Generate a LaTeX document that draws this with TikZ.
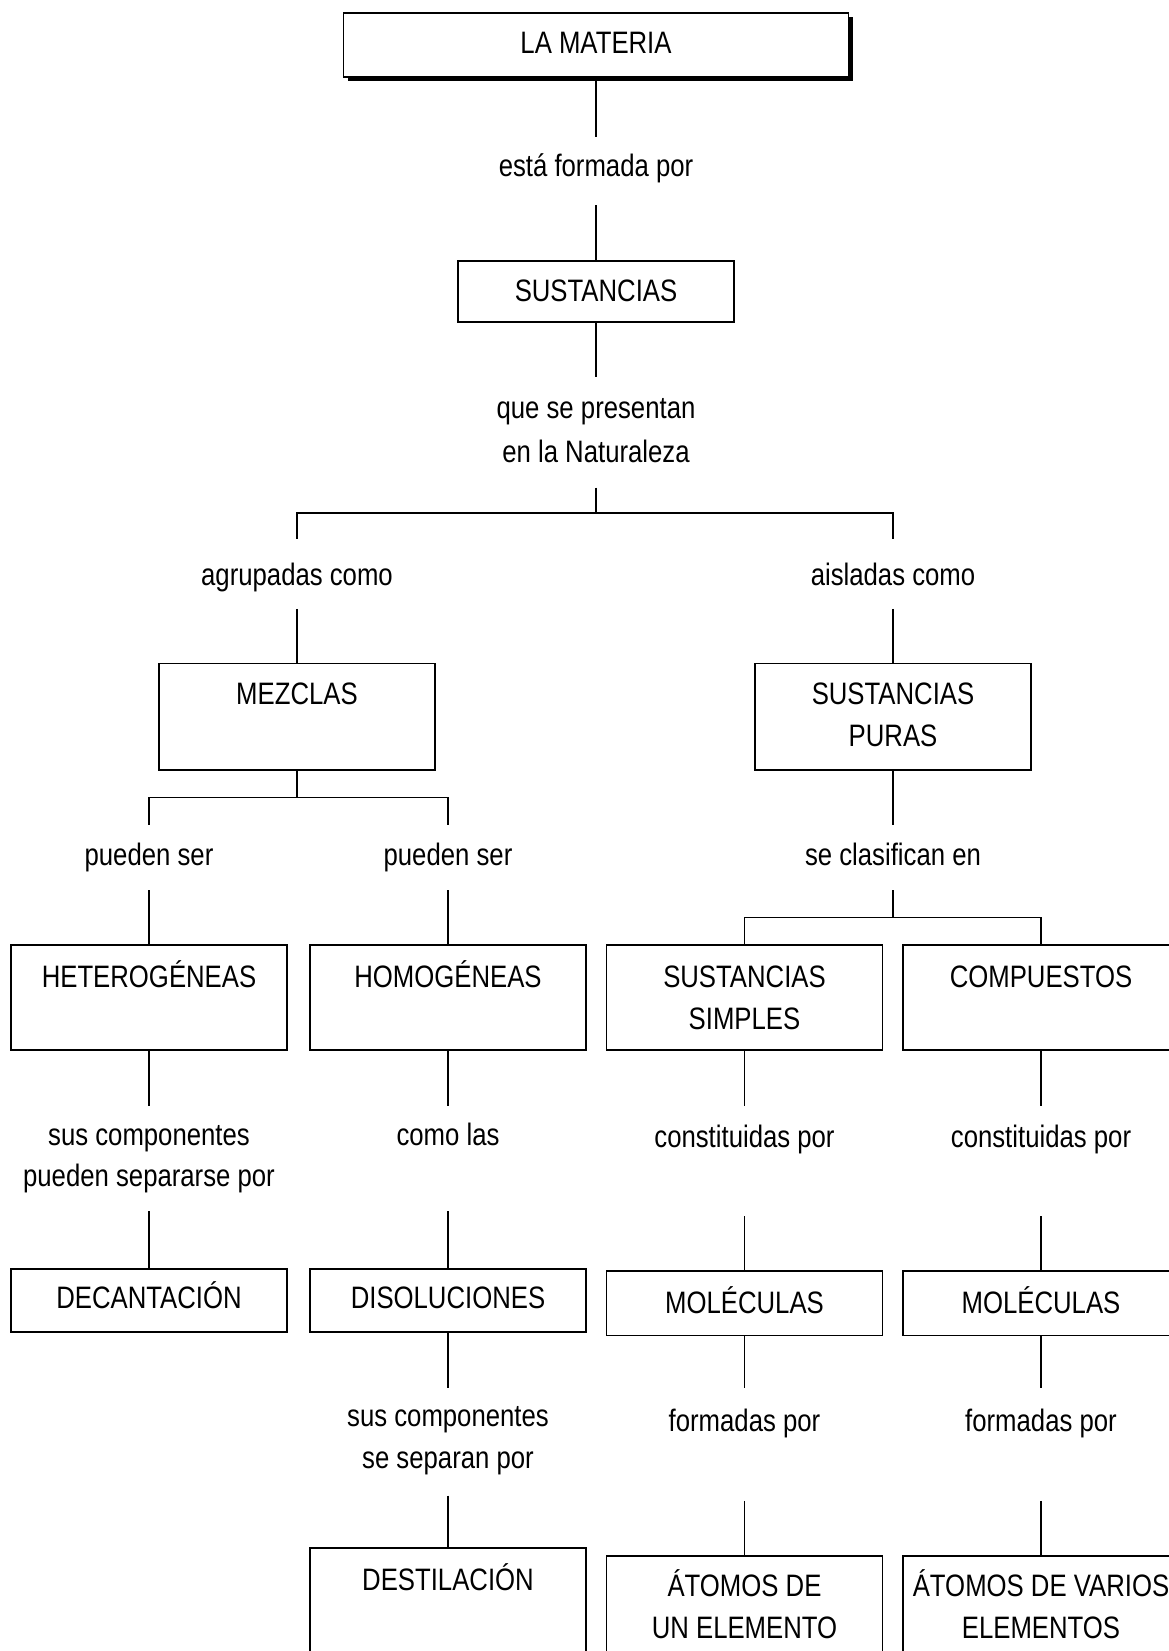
\documentclass[tikz,border=0pt]{standalone}
\usepackage{fontspec}
\setmainfont[FakeStretch=0.83]{Liberation Sans}
\usetikzlibrary{shadows}
\begin{document}
\begin{tikzpicture}[x=1pt,y=-1pt,
  bx/.style={draw, line width=1.8pt, fill=white, inner sep=0pt, outer sep=0pt, anchor=north, minimum width=276pt},
  lbl/.style={inner sep=0pt, outer sep=0pt, anchor=base, text height=23pt, text depth=7pt, font=\fontsize{31}{42}\selectfont},
  cn/.style={line width=1.5pt}]
\useasboundingbox (0,0) rectangle (1169,1651);
\fill[white] (0,0) rectangle (1169,1651);
\clip (0,0) rectangle (1169,1651);

% ---------- boxes ----------
\node[bx, minimum width=505pt, minimum height=64pt,
      drop shadow={shadow xshift=4pt, shadow yshift=-4pt, fill=black, opacity=1}] (lam) at (596,13) {};
\node[bx, minimum height=61.1pt] (sust) at (596,261.2) {};
\node[bx, minimum height=106.4pt] (mez) at (297,663.5) {};
\node[bx, minimum height=106.4pt] (sp) at (893,663.5) {};
\node[bx, minimum height=105.3pt] (het) at (149,944.7) {};
\node[bx, minimum height=105.3pt] (hom) at (448,944.7) {};
\node[bx, minimum height=105.3pt] (ss) at (744.5,944.7) {};
\node[bx, minimum height=105.3pt] (comp) at (1041,944.7) {};
\node[bx, minimum height=63.2pt] (dec) at (149,1269.1) {};
\node[bx, minimum height=63.2pt] (dis) at (448,1269.1) {};
\node[bx, minimum height=64.3pt] (mola) at (744.5,1271.2) {};
\node[bx, minimum height=64.3pt] (molb) at (1041,1271.2) {};
\node[bx, minimum height=105pt] (dest) at (448,1548.2) {};
\node[bx, minimum height=105pt] (ata) at (744.5,1555.6) {};
\node[bx, minimum height=105pt] (atb) at (1041,1555.6) {};

% ---------- box texts ----------
\node[lbl] (tlam) at (596,54) {LA MATERIA};
\node[lbl] (tsust) at (596,301.7) {SUSTANCIAS};
\node[lbl] (tmez) at (297,704) {MEZCLAS};
\node[lbl] (tspa) at (893,704) {SUSTANCIAS};
\node[lbl] (tspb) at (893,746) {PURAS};
\node[lbl] (thet) at (149,987.3) {HETEROGÉNEAS};
\node[lbl] (thom) at (448,987.3) {HOMOGÉNEAS};
\node[lbl] (tssa) at (744.5,987.3) {SUSTANCIAS};
\node[lbl] (tssb) at (744.5,1029.4) {SIMPLES};
\node[lbl] (tcomp) at (1041,987.3) {COMPUESTOS};
\node[lbl] (tdec) at (149,1308.5) {DECANTACIÓN};
\node[lbl] (tdis) at (448,1308.5) {DISOLUCIONES};
\node[lbl] (tmola) at (744.5,1313.8) {MOLÉCULAS};
\node[lbl] (tmolb) at (1041,1313.8) {MOLÉCULAS};
\node[lbl] (tdest) at (448,1590.8) {DESTILACIÓN};
\node[lbl] (tataa) at (744.5,1596) {ÁTOMOS DE};
\node[lbl] (tatab) at (744.5,1638.2) {UN ELEMENTO};
\node[lbl] (tatba) at (1041,1596) {ÁTOMOS DE VARIOS};
\node[lbl] (tatbb) at (1041,1638.2) {ELEMENTOS};

% ---------- link labels ----------
\node[lbl] (la) at (596,176.4) {está formada por};
\node[lbl] (lba) at (596,418.6) {que se presentan};
\node[lbl] (lbb) at (596,462.9) {en la Naturaleza};
\node[lbl] (lca) at (297,585) {agrupadas como};
\node[lbl] (lcb) at (893,585) {aisladas como};
\node[lbl] (lda) at (149,865.2) {pueden ser};
\node[lbl] (ldb) at (448,865.2) {pueden ser};
\node[lbl] (ldc) at (893,865.2) {se clasifican en};
\node[lbl] (leaa) at (149,1145.3) {sus componentes};
\node[lbl] (leab) at (149,1186.4) {pueden separarse por};
\node[lbl] (leb) at (448,1145.3) {como las};
\node[lbl] (lec) at (744.5,1147.5) {constituidas por};
\node[lbl] (led) at (1041,1147.5) {constituidas por};
\node[lbl] (lfaa) at (448,1426.6) {sus componentes};
\node[lbl] (lfab) at (448,1468.7) {se separan por};
\node[lbl] (lfc) at (744.5,1431.8) {formadas por};
\node[lbl] (lfd) at (1041,1431.8) {formadas por};

% ---------- junctions ----------
\coordinate (ja) at (596,512.9);
\coordinate (jb) at (297,797.3);
\coordinate (jc) at (893,917.3);

% ---------- connectors ----------
\draw[cn, shorten >=16.4pt] (lam.south) -- (la.north);
\draw[cn, shorten <=22pt] (la.south) -- (sust.north);
\draw[cn, shorten >=18.6pt] (sust.south) -- (lba.north);
\draw[cn, shorten <=17.7pt] (lbb.south) -- (ja);
\draw[cn, shorten >=22.8pt] (ja) -| (lca.north);
\draw[cn, shorten >=22.8pt] (ja) -| (lcb.north);
\draw[cn, shorten <=16.8pt] (lca.south) -- (mez.north);
\draw[cn, shorten <=16.8pt] (lcb.south) -- (sp.north);

\draw[cn] (mez.south) -- (jb);
\draw[cn, shorten >=17.5pt] (jb) -| (lda.north);
\draw[cn, shorten >=17.5pt] (jb) -| (ldb.north);
\draw[cn, shorten <=17.8pt] (lda.south) -- (het.north);
\draw[cn, shorten <=17.8pt] (ldb.south) -- (hom.north);

\draw[cn, shorten >=17.5pt] (sp.south) -- (ldc.north);
\draw[cn, shorten <=17.8pt] (ldc.south) -- (jc);
\draw[cn] (jc) -| (ss.north);
\draw[cn] (jc) -| (comp.north);

\draw[cn, shorten >=16.4pt] (het.south) -- (leaa.north);
\draw[cn, shorten >=16.4pt] (hom.south) -- (leb.north);
\draw[cn, shorten >=18.6pt] (ss.south) -- (lec.north);
\draw[cn, shorten >=18.6pt] (comp.south) -- (led.north);

\draw[cn, shorten <=17.8pt] (leab.south) -- (dec.north);
\draw[cn, shorten <=58.9pt] (leb.south) -- (dis.north);
\draw[cn, shorten <=61.9pt] (lec.south) -- (mola.north);
\draw[cn, shorten <=61.9pt] (led.south) -- (molb.north);

\draw[cn, shorten >=15.5pt] (dis.south) -- (lfaa.north);
\draw[cn, shorten >=20.7pt] (mola.south) -- (lfc.north);
\draw[cn, shorten >=20.7pt] (molb.south) -- (lfd.north);

\draw[cn, shorten <=19.8pt] (lfab.south) -- (dest.north);
\draw[cn, shorten <=62pt] (lfc.south) -- (ata.north);
\draw[cn, shorten <=62pt] (lfd.south) -- (atb.north);
\end{tikzpicture}
\end{document}
